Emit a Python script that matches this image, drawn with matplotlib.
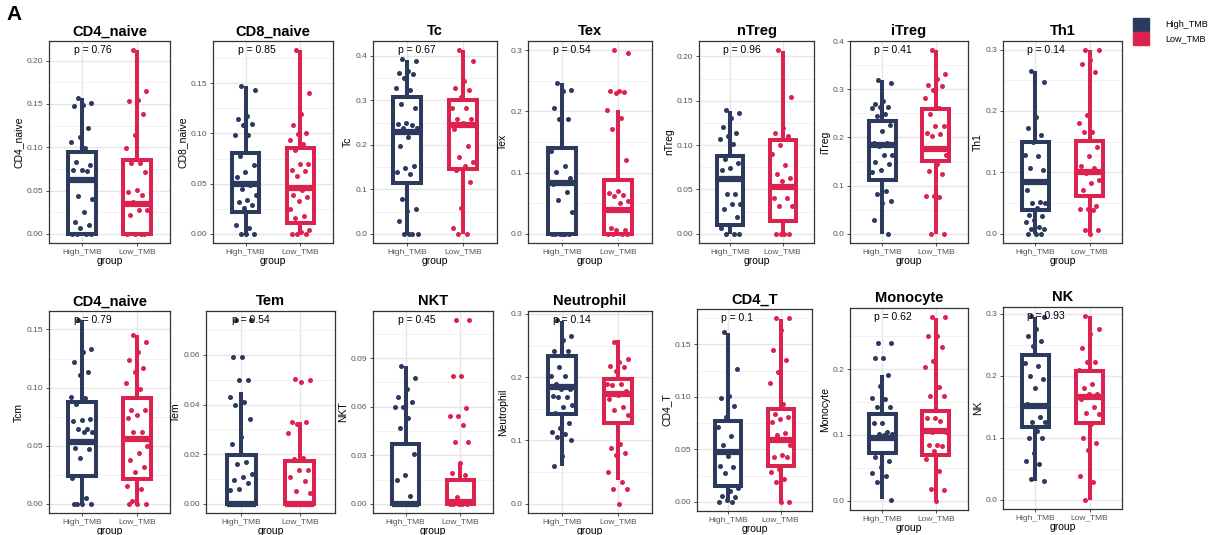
import numpy as np
import matplotlib
matplotlib.use("Agg")
import matplotlib.pyplot as plt
from matplotlib.ticker import MultipleLocator, FormatStrFormatter, NullLocator
from matplotlib.patches import Patch

plt.rcParams['font.family'] = ['Liberation Sans', 'DejaVu Sans']

NAVY = "#2C3A5E"
RED = "#DC2350"

groups = ["High_TMB", "Low_TMB"]

# box stats: (whisker low, q1, median, q3, whisker high)
cd4_naive_hi = [0.157, 0.151, 0.149, 0.148, 0.122, 0.112, 0.106, 0.099, 0.083, 0.080, 0.074, 0.074,
                0.072, 0.044, 0.040, 0.025, 0.014, 0.010, 0.007, 0, 0, 0, 0]
cd4_naive_lo = [0.212, 0.165, 0.154, 0.153, 0.138, 0.114, 0.099, 0.082, 0.082, 0.071, 0.051, 0.048,
                0.045, 0.037, 0.028, 0.027, 0.022, 0, 0, 0, 0]
cd4_naive_box = [(0, 0, 0.062, 0.095, 0.157), (0, 0, 0.035, 0.085, 0.212)]

cd8_naive_hi = [0.147, 0.143, 0.117, 0.114, 0.109, 0.108, 0.098, 0.098, 0.078, 0.069, 0.062, 0.057,
                0.049, 0.045, 0.039, 0.034, 0.032, 0.029, 0.026, 0.009, 0.006, 0, 0, 0]
cd8_naive_lo = [0.183, 0.140, 0.119, 0.108, 0.100, 0.099, 0.093, 0.090, 0.084, 0.070, 0.070, 0.064,
                0.063, 0.058, 0.047, 0.044, 0.039, 0.037, 0.033, 0.025, 0.018, 0.016, 0.004, 0.002, 0, 0, 0]
cd8_naive_box = [(0, 0.022, 0.050, 0.081, 0.147), (0, 0.011, 0.046, 0.086, 0.183)]

tc_hi = [0.394, 0.389, 0.366, 0.362, 0.359, 0.351, 0.329, 0.323, 0.292, 0.282, 0.250, 0.248, 0.245,
         0.239, 0.237, 0.218, 0.197, 0.153, 0.149, 0.140, 0.134, 0.078, 0.055, 0.052, 0.028, 0, 0, 0, 0]
tc_lo = [0.413, 0.388, 0.343, 0.327, 0.324, 0.308, 0.282, 0.282, 0.259, 0.259, 0.250, 0.235, 0.197,
         0.172, 0.162, 0.153, 0.144, 0.117, 0.058, 0.014, 0, 0]
tc_box = [(0, 0.115, 0.230, 0.307, 0.392), (0, 0.145, 0.245, 0.302, 0.413)]

tex_hi = [0.247, 0.235, 0.233, 0.206, 0.188, 0.187, 0.136, 0.111, 0.101, 0.091, 0.085, 0.081, 0.069,
          0.056, 0.036, 0, 0, 0, 0, 0, 0]
tex_lo = [0.300, 0.295, 0.233, 0.233, 0.232, 0.230, 0.203, 0.190, 0.172, 0.120, 0.070, 0.067, 0.063,
          0.061, 0.054, 0.051, 0.009, 0.007, 0.007, 0, 0, 0, 0]
tex_box = [(0, 0, 0.083, 0.140, 0.246), (0, 0, 0.039, 0.088, 0.203)]

ntreg_hi = [0.140, 0.136, 0.130, 0.120, 0.114, 0.110, 0.107, 0.101, 0.084, 0.080, 0.074, 0.072, 0.045,
            0.045, 0.034, 0.034, 0.028, 0.019, 0.010, 0.007, 0, 0, 0]
ntreg_lo = [0.207, 0.154, 0.119, 0.114, 0.110, 0.100, 0.090, 0.078, 0.067, 0.063, 0.059, 0.040, 0.040,
            0.031, 0.031, 0, 0, 0, 0]
ntreg_box = [(0, 0.010, 0.062, 0.088, 0.139), (0, 0.015, 0.053, 0.106, 0.206)]

itreg_hi = [0.320, 0.312, 0.276, 0.269, 0.264, 0.264, 0.262, 0.248, 0.245, 0.226, 0.214, 0.188, 0.188,
            0.183, 0.163, 0.163, 0.148, 0.145, 0.132, 0.128, 0.088, 0.083, 0.068, 0.064, 0.028, 0]
itreg_lo = [0.381, 0.331, 0.321, 0.308, 0.306, 0.298, 0.281, 0.262, 0.248, 0.223, 0.223, 0.209, 0.207,
            0.203, 0.163, 0.145, 0.131, 0.124, 0.079, 0.079, 0.076, 0, 0]
itreg_box = [(0, 0.112, 0.185, 0.234, 0.320), (0, 0.152, 0.177, 0.259, 0.381)]

th1_hi = [0.265, 0.248, 0.191, 0.172, 0.161, 0.149, 0.129, 0.126, 0.107, 0.104, 0.085, 0.072, 0.051,
          0.050, 0.050, 0.042, 0.031, 0.029, 0.022, 0.019, 0.011, 0.008, 0.008, 0, 0, 0]
th1_lo = [0.299, 0.299, 0.283, 0.277, 0.264, 0.194, 0.180, 0.166, 0.165, 0.141, 0.127, 0.111, 0.107,
          0.099, 0.088, 0.082, 0.072, 0.045, 0.041, 0.041, 0.038, 0.007, 0.007, 0]
th1_box = [(0, 0.039, 0.084, 0.150, 0.265), (0, 0.061, 0.100, 0.151, 0.299)]

tcm_hi = [0.158, 0.133, 0.131, 0.122, 0.113, 0.111, 0.092, 0.091, 0.086, 0.073, 0.072, 0.071, 0.064,
          0.064, 0.062, 0.062, 0.048, 0.047, 0.039, 0.022, 0.005, 0, 0, 0, 0]
tcm_lo = [0.145, 0.139, 0.131, 0.124, 0.117, 0.113, 0.104, 0.099, 0.081, 0.081, 0.076, 0.074, 0.062,
          0.062, 0.050, 0.044, 0.038, 0.032, 0.027, 0.015, 0.013, 0.002, 0, 0, 0]
tcm_box = [(0, 0.024, 0.053, 0.088, 0.158), (0, 0.021, 0.056, 0.091, 0.145)]

tem_hi = [0.074, 0.074, 0.059, 0.059, 0.050, 0.050, 0.043, 0.041, 0.040, 0.034, 0.027, 0.024, 0.017,
          0.016, 0.012, 0.011, 0.0095, 0.0085, 0.006, 0.0055, 0, 0, 0, 0, 0, 0]
tem_lo = [0.0504, 0.0499, 0.049, 0.033, 0.033, 0.0323, 0.0284, 0.0186, 0.018, 0.0136, 0.0136, 0.011,
          0.0091, 0.005, 0.0044, 0, 0, 0, 0, 0, 0]
tem_box = [(0, 0, 0, 0.0195, 0.045), (0, 0, 0, 0.0172, 0.033)]

nkt_hi = [0.0849, 0.078, 0.071, 0.066, 0.063, 0.060, 0.060, 0.053, 0.047, 0.031, 0.018, 0.015, 0.005,
          0, 0, 0, 0, 0, 0]
nkt_lo = [0.1135, 0.1135, 0.079, 0.079, 0.059, 0.054, 0.054, 0.049, 0.038, 0.038, 0.025, 0.019, 0.018,
          0.004, 0.002, 0, 0, 0, 0, 0]
nkt_box = [(0, 0, 0, 0.0367, 0.0849), (0, 0, 0.001, 0.0148, 0.025)]

neutrophil_hi = [0.290, 0.265, 0.258, 0.242, 0.241, 0.216, 0.202, 0.202, 0.190, 0.182, 0.182, 0.170,
                 0.169, 0.168, 0.156, 0.153, 0.143, 0.127, 0.119, 0.114, 0.110, 0.106, 0.101, 0.075, 0.059]
neutrophil_lo = [0.255, 0.228, 0.224, 0.217, 0.216, 0.210, 0.190, 0.190, 0.187, 0.178, 0.172, 0.166,
                 0.153, 0.148, 0.140, 0.095, 0.088, 0.081, 0.077, 0.050, 0.035, 0.024, 0.024, 0]
neutrophil_box = [(0.060, 0.142, 0.185, 0.233, 0.288), (0.037, 0.128, 0.174, 0.197, 0.258)]

cd4_t_hi = [0.162, 0.127, 0.101, 0.099, 0.091, 0.081, 0.071, 0.063, 0.054, 0.047, 0.044, 0.034, 0.033,
            0.027, 0.013, 0.010, 0.006, 0.0045, 0.002, 0, 0]
cd4_t_lo = [0.175, 0.175, 0.164, 0.145, 0.135, 0.124, 0.113, 0.093, 0.084, 0.081, 0.079, 0.076, 0.066,
            0.064, 0.054, 0.045, 0.043, 0.043, 0.031, 0.028, 0.022, 0.019, 0, 0]
cd4_t_box = [(0, 0.0155, 0.047, 0.077, 0.161), (0, 0.034, 0.059, 0.088, 0.174)]

monocyte_hi = [0.240, 0.240, 0.217, 0.217, 0.191, 0.174, 0.156, 0.154, 0.143, 0.143, 0.118, 0.118,
               0.104, 0.102, 0.102, 0.100, 0.067, 0.060, 0.052, 0.043, 0.038, 0.028, 0.0015]
monocyte_lo = [0.279, 0.279, 0.251, 0.251, 0.233, 0.213, 0.203, 0.173, 0.159, 0.159, 0.126, 0.126,
               0.122, 0.104, 0.104, 0.085, 0.085, 0.083, 0.075, 0.063, 0.046, 0.018, 0.017, 0]
monocyte_box = [(0.0025, 0.072, 0.095, 0.132, 0.191), (0, 0.069, 0.106, 0.136, 0.278)]

nk_hi = [0.296, 0.294, 0.276, 0.264, 0.256, 0.248, 0.220, 0.216, 0.200, 0.194, 0.181, 0.154, 0.133,
         0.125, 0.125, 0.111, 0.100, 0.100, 0.075, 0.063, 0.057, 0.034, 0.030]
nk_lo = [0.296, 0.275, 0.268, 0.245, 0.222, 0.222, 0.210, 0.186, 0.181, 0.170, 0.170, 0.163, 0.150,
         0.140, 0.138, 0.122, 0.100, 0.092, 0.080, 0.038, 0.029, 0]
nk_box = [(0.031, 0.118, 0.151, 0.234, 0.294), (0, 0.124, 0.165, 0.208, 0.296)]

titles = ["CD4_naive", "CD8_naive", "Tc", "Tex", "nTreg", "iTreg", "Th1",
          "CD4_naive", "Tem", "NKT", "Neutrophil", "CD4_T", "Monocyte", "NK"]
ylabels = ["CD4_naive", "CD8_naive", "Tc", "Tex", "nTreg", "iTreg", "Th1",
           "Tcm", "Tem", "NKT", "Neutrophil", "CD4_T", "Monocyte", "NK"]
pvalues = ["0.76", "0.85", "0.67", "0.54", "0.96", "0.41", "0.14",
           "0.79", "0.54", "0.45", "0.14", "0.1", "0.62", "0.93"]
tick_steps = [0.05, 0.05, 0.1, 0.1, 0.05, 0.1, 0.1,
              0.05, 0.02, 0.03, 0.1, 0.05, 0.1, 0.1]

high_vals = [cd4_naive_hi, cd8_naive_hi, tc_hi, tex_hi, ntreg_hi, itreg_hi, th1_hi,
             tcm_hi, tem_hi, nkt_hi, neutrophil_hi, cd4_t_hi, monocyte_hi, nk_hi]
low_vals = [cd4_naive_lo, cd8_naive_lo, tc_lo, tex_lo, ntreg_lo, itreg_lo, th1_lo,
            tcm_lo, tem_lo, nkt_lo, neutrophil_lo, cd4_t_lo, monocyte_lo, nk_lo]
boxes = [cd4_naive_box, cd8_naive_box, tc_box, tex_box, ntreg_box, itreg_box, th1_box,
         tcm_box, tem_box, nkt_box, neutrophil_box, cd4_t_box, monocyte_box, nk_box]

# panel frames in pixels: left, right, top, bottom
frames = [(49, 170, 41, 243), (213, 333, 41, 243), (373, 497, 41, 243), (528, 652, 41, 243),
          (699, 814, 41, 243), (850, 968, 41, 243), (1003, 1122, 41, 243),
          (49, 170, 311, 513), (206, 335, 311, 513), (373, 493, 311, 513), (528, 652, 311, 513),
          (697, 812, 309, 511), (850, 968, 308, 510), (1003, 1122, 307, 509)]

W, H = 1225, 535
fig = plt.figure(figsize=(W / 100, H / 100), dpi=100)


def jitter(n):
    return ((np.arange(n) * 0.618034 + 0.3) % 1 - 0.5) * 0.4


for i in range(14):
    l, r, t, b = frames[i]
    ax = fig.add_axes([l / W, 1 - b / H, (r - l) / W, (b - t) / H])
    ax.set_axisbelow(True)
    allv = high_vals[i] + low_vals[i] + [v for bx in boxes[i] for v in bx]
    lo, hi = min(allv), max(allv)
    rng = hi - lo
    for k, (vals, col) in enumerate([(high_vals[i], NAVY), (low_vals[i], RED)]):
        bx = boxes[i][k]
        st = dict(whislo=bx[0], q1=bx[1], med=bx[2], q3=bx[3], whishi=bx[4], fliers=[])
        ax.bxp([st], positions=[k + 1], widths=0.5, showcaps=False, showfliers=False,
               patch_artist=True,
               boxprops=dict(facecolor="white", edgecolor=col, lw=2.9),
               whiskerprops=dict(color=col, lw=2.9, solid_capstyle="butt"),
               medianprops=dict(color=col, lw=4.5, solid_capstyle="butt"))
        ax.scatter(k + 1 + jitter(len(vals)), vals, s=13, color=col, zorder=5, lw=0)
    ax.set_xlim(0.4, 2.6)
    ax.set_ylim(lo - 0.05 * rng, hi + 0.05 * rng)
    step = tick_steps[i]
    ax.yaxis.set_major_locator(MultipleLocator(step))
    ax.yaxis.set_minor_locator(MultipleLocator(step / 2))
    nd = 2 if step < 0.1 else 1
    ax.yaxis.set_major_formatter(FormatStrFormatter("%%.%df" % nd))
    ax.set_xticks([1, 2])
    ax.set_xticklabels(groups)
    ax.xaxis.set_minor_locator(NullLocator())
    ax.grid(which="major", color="#E6E6E6", lw=1.0)
    ax.grid(which="minor", axis="y", color="#F0F0F0", lw=0.6)
    ax.tick_params(which="major", length=2.5, width=0.6, color="#333333",
                   labelsize=6, labelcolor="#555555", pad=1.5)
    ax.tick_params(which="minor", length=0)
    for sp in ax.spines.values():
        sp.set_color("#333333")
        sp.set_linewidth(0.9)
    ax.set_title(titles[i], fontsize=10.5, fontweight="bold", pad=4,
                 family=["Liberation Sans Narrow", "Liberation Sans"])
    ax.set_ylabel(ylabels[i], fontsize=7.5, labelpad=2)
    ax.set_xlabel("group", fontsize=7.5, labelpad=0.5)
    ax.text(0.85, hi, "p = " + pvalues[i], fontsize=7.5, ha="left", va="center", zorder=6)

handles = [Patch(facecolor=NAVY, edgecolor=NAVY), Patch(facecolor=RED, edgecolor=RED)]
fig.legend(handles, groups, loc="upper left", bbox_to_anchor=(1125 / W, 1 - 10 / H),
           frameon=False, fontsize=6.5, handlelength=1.8, handleheight=1.8,
           handletextpad=1.8, labelspacing=0.15)

fig.text(6 / W, 1 - 20 / H, "A", fontsize=15, fontweight="bold", va="baseline")

fig.savefig("out.png", dpi=100, facecolor="white")
